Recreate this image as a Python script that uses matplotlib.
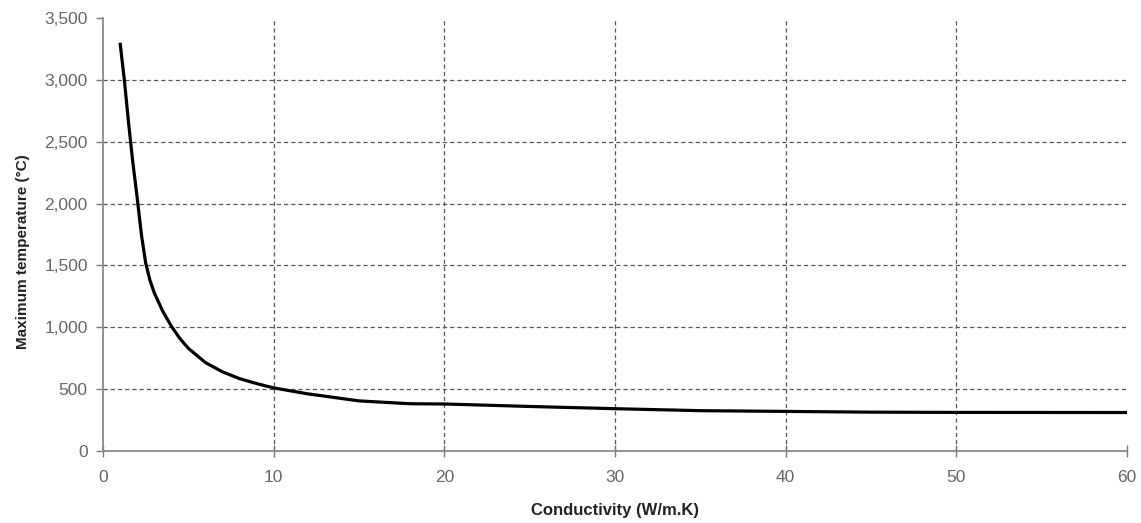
import matplotlib
matplotlib.use("Agg")
import matplotlib.pyplot as plt
from matplotlib.ticker import FuncFormatter

# Maximum temperature as a function of material conductivity
conductivity = [1, 1.25, 1.5, 1.75, 2, 2.25, 2.5, 2.75, 3, 3.5, 4, 4.5, 5, 6, 7, 8, 9, 10,
                12, 15, 18, 20, 25, 30, 35, 40, 45, 50, 60]
max_temp = [3300, 3000, 2650, 2330, 2050, 1750, 1520, 1380, 1280, 1130, 1010, 910, 830, 715,
            640, 585, 545, 510, 462, 405, 382, 380, 360, 342, 326, 320, 314, 312, 311]

x_ticks = [0, 10, 20, 30, 40, 50, 60]
y_ticks = [0, 500, 1000, 1500, 2000, 2500, 3000, 3500]
x_grid = [10, 20, 30, 40, 50]
y_grid = [500, 1000, 1500, 2000, 2500, 3000]

plt.rcParams["font.family"] = ["Liberation Sans", "DejaVu Sans"]
plt.rcParams["lines.scale_dashes"] = False

fig = plt.figure(figsize=(11.41, 5.23), dpi=100)
ax = fig.add_axes([103 / 1141, 1 - 451 / 523, 1024 / 1141, 433 / 523])

ax.plot(conductivity, max_temp, color="black", lw=2.3, solid_joinstyle="round",
        solid_capstyle="butt", zorder=3)

ax.set_xlim(0, 60)
ax.set_ylim(0, 3500)
ax.set_xticks(x_ticks)
ax.set_yticks(y_ticks)
ax.yaxis.set_major_formatter(FuncFormatter(lambda v, p: f"{int(v):,}"))

# dashed grid lines inside the plot area only
grid_kw = dict(color="#555555", lw=0.9, ls=(0, (3.0, 2.2)), zorder=1)
for gx in x_grid:
    ax.axvline(gx, **grid_kw)
for gy in y_grid:
    ax.axhline(gy, **grid_kw)

for side in ("top", "right"):
    ax.spines[side].set_visible(False)
for side in ("left", "bottom"):
    ax.spines[side].set_color("#8a8a8a")
    ax.spines[side].set_linewidth(1.3)

ax.tick_params(axis="y", direction="out", length=5, width=1, color="#777777",
               labelsize=12.5, labelcolor="#666666", pad=6)
ax.tick_params(axis="x", direction="inout", length=8, width=1, color="#777777",
               labelsize=12.5, labelcolor="#666666", pad=10)

fig.text(615 / 1141, 1 - 510 / 523, "Conductivity (W/m.K)", ha="center", va="center",
         fontsize=12, fontweight="bold", color="#222222")
fig.text(23 / 1141, 1 - 252 / 523, "Maximum temperature (°C)", ha="center", va="center",
         rotation=90, fontsize=11, fontweight="bold", color="#222222")

fig.savefig("out.png", dpi=100)
